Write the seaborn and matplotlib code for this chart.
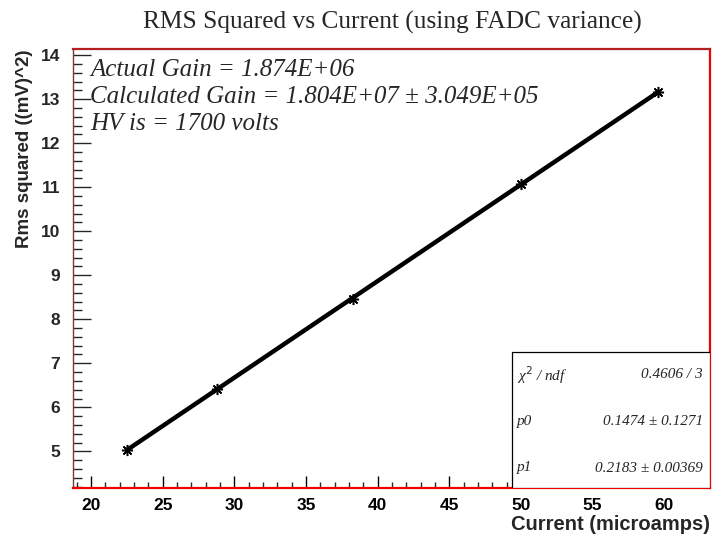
import numpy as np
import pandas as pd
import seaborn as sns
import matplotlib
matplotlib.use("Agg")
import matplotlib.pyplot as plt
from matplotlib.patches import Rectangle
from matplotlib.ticker import MultipleLocator

# ---- data ----
current = [22.5, 28.8, 38.3, 50.0, 59.6]
rms_sq = [5.04, 6.41, 8.47, 11.07, 13.17]
rms_err = [0.06, 0.06, 0.07, 0.08, 0.09]

title = "RMS Squared vs Current (using FADC variance)"
xlabel = "Current (microamps)"
ylabel = "Rms squared ((mV)^2)"
info_lines = ["Actual Gain = 1.874E+06",
              "Calculated Gain = 1.804E+07 \u00b1 3.049E+05",
              "HV is = 1700 volts"]
stat_names = ["\u03c7$^2$ / ndf", "p0", "p1"]
stat_values = ["0.4606 / 3", "0.1474 \u00b1 0.1271", "0.2183 \u00b1 0.00369"]

df = pd.DataFrame({"current": current, "rms": rms_sq, "err": rms_err})

sns.set_style("white")
plt.rcParams['font.family'] = ['Liberation Sans', 'DejaVu Sans']

fig = plt.figure(figsize=(7.14, 5.35), dpi=100)
ax = fig.add_axes([72.7/714, 1-488.3/535, (710-72.7)/714, (488.3-49)/535])

sns.regplot(data=df, x="current", y="rms", ax=ax, ci=None, truncate=True,
            scatter=False, line_kws=dict(color="black", lw=3.2))
ax.errorbar(df["current"], df["rms"], yerr=df["err"], fmt="none",
            ecolor="black", elinewidth=1.0, capsize=0)
ax.plot(df["current"], df["rms"], ls="none", marker=(8, 2, 0),
        ms=8, mew=1.1, color="black")

ax.set_xlim(18.72, 63.2)
ax.set_ylim(4.16, 14.14)

ax.xaxis.set_major_locator(MultipleLocator(5))
ax.xaxis.set_minor_locator(MultipleLocator(1))
ax.yaxis.set_major_locator(MultipleLocator(1))
ax.yaxis.set_minor_locator(MultipleLocator(0.2))

ax.tick_params(axis="x", which="major", direction="in", length=8.6, width=1,
               pad=7, labelsize=12.5, colors="black", bottom=True, top=False)
ax.tick_params(axis="x", which="minor", direction="in", length=4.3, width=1,
               bottom=True, top=False)
ax.tick_params(axis="y", which="major", direction="in", length=13, width=1,
               pad=9, labelsize=12.5, left=True, right=False)
ax.tick_params(axis="y", which="minor", direction="in", length=6.5, width=1,
               left=True, right=False)
for lab in ax.get_xticklabels() + ax.get_yticklabels():
    lab.set_fontweight("bold")

ax.set_xlabel(xlabel, loc="right", fontsize=14.5, fontweight="bold")
ax.xaxis.set_label_coords(1.0, -0.06)
ax.xaxis.label.set_va("top")
ax.set_ylabel(ylabel, loc="top", fontsize=13.5, fontweight="bold")
ax.yaxis.set_label_coords(-0.062, 1.0)

for side, col in [("top", "#b02020"), ("right", "#ee0000"),
                  ("bottom", "#ee0000"), ("left", "#7a3a3a")]:
    ax.spines[side].set_color(col)
    ax.spines[side].set_linewidth(1.6 if side != "left" else 1.0)
    ax.spines[side].set_visible(True)

fig.text(392/714, 1-22/535, title, ha="center", va="center",
         fontsize=18.3, family="Liberation Serif")

for i, line in enumerate(info_lines):
    ax.text((90-72.7)/637.3, 1-(70-49+27*i)/439.3, line, transform=ax.transAxes,
            ha="left", va="center", fontsize=18, style="italic",
            family="Liberation Serif")

# stats box
bx0 = (512-72.7)/637.3
by1 = (488.3-351.7)/439.3
ax.add_patch(Rectangle((bx0, 0), 1-bx0, by1, transform=ax.transAxes,
                       facecolor="white", edgecolor="black", lw=0.9, zorder=5))
for i, (nm, val) in enumerate(zip(stat_names, stat_values)):
    yy = 1-(375-49+46.5*i)/439.3
    ax.text((517-72.7)/637.3, yy, nm, transform=ax.transAxes, ha="left",
            va="center", fontsize=11, style="italic", family="Liberation Serif",
            zorder=6)
    ax.text((703-72.7)/637.3, yy, val, transform=ax.transAxes, ha="right",
            va="center", fontsize=11, style="italic", family="Liberation Serif",
            zorder=6)

fig.savefig("out.png", dpi=100)
